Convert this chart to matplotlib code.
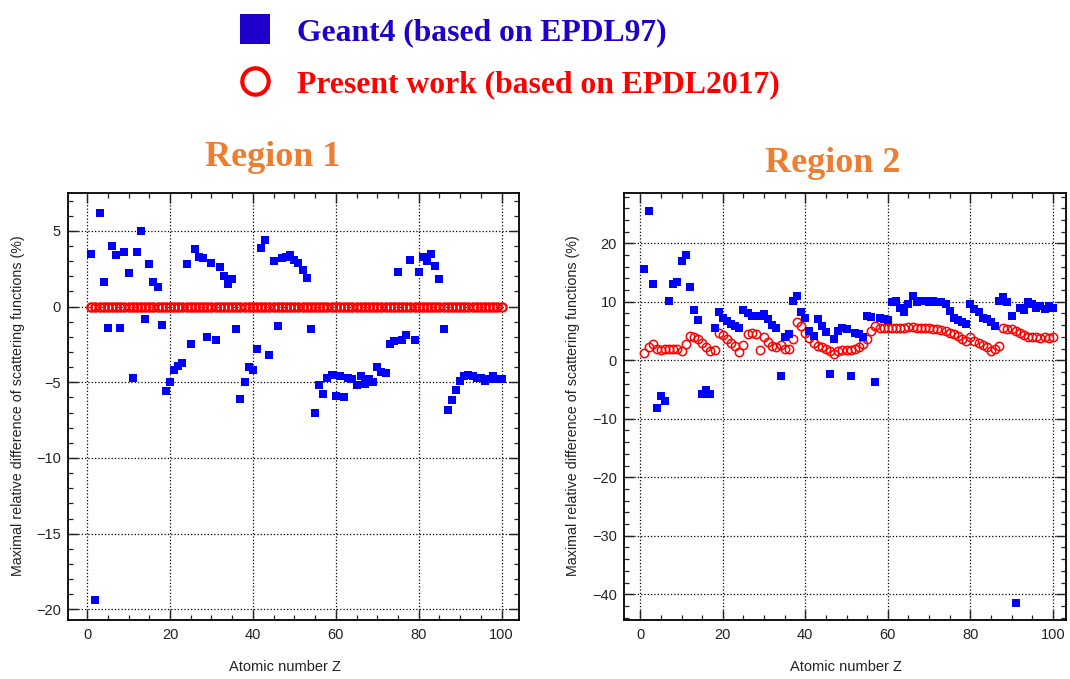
import numpy as np
import matplotlib
matplotlib.use("Agg")
import matplotlib.pyplot as plt
from matplotlib.lines import Line2D
from matplotlib.ticker import MultipleLocator

# Atomic number Z of each element
atomic_number = np.arange(1, 101)

# Region 1: maximal relative difference (%)
geant4_region1 = [
    3.5, -19.4, 6.2, 1.6, -1.4, 4.0, 3.4, -1.4, 3.6, 2.2,
    -4.7, 3.6, 5.0, -0.8, 2.8, 1.6, 1.3, -1.2, -5.6, -5.0,
    -4.2, -3.9, -3.7, 2.8, -2.5, 3.8, 3.3, 3.2, -2.0, 2.9,
    -2.2, 2.6, 2.0, 1.5, 1.8, -1.5, -6.1, -5.0, -4.0, -4.2,
    -2.8, 3.9, 4.4, -3.2, 3.0, -1.3, 3.2, 3.3, 3.4, 3.1,
    2.9, 2.4, 1.9, -1.5, -7.0, -5.2, -5.8, -4.7, -4.5, -5.9,
    -4.6, -6.0, -4.7, -4.8, -5.2, -4.6, -5.1, -4.8, -5.0, -4.0,
    -4.3, -4.4, -2.5, -2.3, 2.3, -2.2, -1.9, 3.1, -2.2, 2.3,
    3.3, 3.0, 3.5, 2.7, 1.8, -1.5, -6.8, -6.2, -5.5, -4.9,
    -4.6, -4.5, -4.6, -4.7, -4.7, -4.9, -4.8, -4.6, -4.8, -4.8,
]
present_region1 = [
    0, 0, 0, 0, 0, 0, 0, 0, 0, 0, 0, 0, 0, 0, 0, 0, 0, 0, 0, 0,
    0, 0, 0, 0, 0, 0, 0, 0, 0, 0, 0, 0, 0, 0, 0, 0, 0, 0, 0, 0,
    0, 0, 0, 0, 0, 0, 0, 0, 0, 0, 0, 0, 0, 0, 0, 0, 0, 0, 0, 0,
    0, 0, 0, 0, 0, 0, 0, 0, 0, 0, 0, 0, 0, 0, 0, 0, 0, 0, 0, 0,
    0, 0, 0, 0, 0, 0, 0, 0, 0, 0, 0, 0, 0, 0, 0, 0, 0, 0, 0, 0,
]

# Region 2
geant4_region2 = [
    15.6, 25.5, 13.0, -8.1, -6.1, -7.0, 10.2, 13.0, 13.3, 17.0,
    18.0, 12.6, 8.6, 6.9, -5.8, -5.0, -5.8, 5.6, 8.2, 7.3,
    6.8, 6.2, 5.9, 5.6, 8.6, 8.0, 7.6, 7.6, 7.6, 7.9,
    7.0, 6.0, 5.5, -2.7, 3.9, 4.5, 10.2, 11.0, 8.2, 7.3,
    5.0, 4.2, 7.0, 5.9, 4.8, -2.4, 3.6, 5.0, 5.5, 5.3,
    -2.7, 4.7, 4.5, 3.9, 7.6, 7.4, -3.7, 7.3, 7.1, 6.9,
    10.0, 10.1, 8.9, 8.2, 9.6, 11.0, 10.0, 10.2, 10.2, 10.0,
    10.2, 9.9, 9.9, 9.6, 8.5, 7.3, 6.9, 6.5, 6.2, 9.7,
    8.8, 8.2, 7.3, 7.0, 6.5, 5.9, 10.2, 10.8, 10.0, 7.6,
    -41.5, 9.0, 8.6, 9.9, 9.6, 9.0, 9.3, 8.8, 9.3, 9.0,
]
present_region2 = [
    1.2, 2.2, 2.8, 1.9, 1.8, 2.0, 2.0, 2.0, 2.0, 1.6,
    2.7, 4.2, 4.0, 3.7, 2.9, 2.2, 1.6, 1.7, 4.7, 4.3,
    3.6, 3.0, 2.5, 1.5, 2.6, 4.5, 4.6, 4.5, 1.8, 3.9,
    3.2, 2.4, 2.2, 2.6, 2.0, 1.9, 3.6, 6.5, 5.8, 4.6,
    3.8, 3.0, 2.5, 2.3, 1.9, 1.6, 1.0, 1.6, 1.7, 1.7,
    1.8, 2.0, 2.3, 2.7, 3.6, 5.0, 5.8, 5.5, 5.6, 5.6,
    5.6, 5.6, 5.6, 5.6, 5.7, 5.7, 5.6, 5.6, 5.5, 5.5,
    5.4, 5.3, 5.2, 5.0, 4.7, 4.5, 4.2, 3.6, 3.3, 3.9,
    3.3, 3.0, 2.6, 2.2, 1.6, 1.9, 2.5, 5.6, 5.3, 5.3,
    5.0, 4.7, 4.3, 4.0, 3.9, 3.9, 3.8, 3.9, 3.8, 3.9,
]

titles = ["Region 1", "Region 2"]
legend_labels = ["Geant4 (based on EPDL97)", "Present work (based on EPDL2017)"]
xlabel = "Atomic number Z"
ylabel = "Maximal relative difference of scattering functions (%)"

plt.rcParams['font.family'] = ['Liberation Sans', 'DejaVu Sans']
plt.rcParams['axes.unicode_minus'] = True
for ax_name in ['xtick', 'ytick']:
    plt.rcParams[f'{ax_name}.direction'] = 'in'
    plt.rcParams[f'{ax_name}.major.size'] = 7.5
    plt.rcParams[f'{ax_name}.minor.size'] = 3.8
    plt.rcParams[f'{ax_name}.major.width'] = 1.0
    plt.rcParams[f'{ax_name}.minor.width'] = 0.9
    plt.rcParams[f'{ax_name}.labelsize'] = 10.5
    plt.rcParams[f'{ax_name}.color'] = '#222222'
plt.rcParams['xtick.top'] = True
plt.rcParams['ytick.right'] = True
plt.rcParams['xtick.major.pad'] = 6
plt.rcParams['ytick.major.pad'] = 5

W, H = 1070, 679
fig = plt.figure(figsize=(W / 100, H / 100), dpi=100)

blue = '#0000ff'
red = '#ff0000'
orange = '#ED7D31'


def make_axes(left, right, top, bottom):
    return fig.add_axes([left / W, 1 - bottom / H, (right - left) / W, (bottom - top) / H])


def draw_region(ax, geant, present, ylim, ymajor, yminor, xlim, circle_lw):
    ax.plot(atomic_number, present, linestyle='none', marker='o', markersize=6.0,
            markerfacecolor='none', markeredgecolor=red, markeredgewidth=circle_lw, zorder=3)
    ax.plot(atomic_number, geant, linestyle='none', marker='s', markersize=5.8,
            color=blue, markeredgewidth=0, zorder=4)
    ax.set_xlim(*xlim)
    ax.set_ylim(*ylim)
    ax.xaxis.set_major_locator(MultipleLocator(20))
    ax.xaxis.set_minor_locator(MultipleLocator(5))
    ax.yaxis.set_major_locator(MultipleLocator(ymajor))
    ax.yaxis.set_minor_locator(MultipleLocator(yminor))
    ax.grid(True, which='major', linestyle=':', color='black', linewidth=0.9)
    for sp in ax.spines.values():
        sp.set_linewidth(1.3)


ax1 = make_axes(68, 519, 193, 620)
draw_region(ax1, geant4_region1, present_region1, (-20.7, 7.5), 5, 1, (-4.6, 104.2), 1.6)
ax2 = make_axes(624, 1066, 193, 620)
draw_region(ax2, geant4_region2, present_region2, (-44.4, 28.6), 10, 2, (-3.95, 103.2), 1.1)

# axis titles
for xc, yc in [(18, 406), (573, 406)]:
    fig.text(xc / W, 1 - yc / H, ylabel, rotation=90, ha='center', va='center',
             fontsize=10.3, color='#222222')
for xc in [285, 846]:
    fig.text(xc / W, 1 - 667 / H, xlabel, ha='center', va='center',
             fontsize=10.5, color='#222222')

# region titles
for (xc, yc), t in zip([(273, 158), (833, 163)], titles):
    fig.text(xc / W, 1 - yc / H, t, ha='center', va='center', fontsize=26,
             fontweight='bold', family='Liberation Serif', color=orange)

handles = [
    Line2D([], [], linestyle='none', marker='s', markersize=21, color='#1E00CC', markeredgewidth=0),
    Line2D([], [], linestyle='none', marker='o', markersize=19, markerfacecolor='none',
           markeredgecolor=red, markeredgewidth=3),
]
fig.legend(handles, legend_labels, loc='upper left', bbox_to_anchor=(239 / W, 1 - 18 / H),
           frameon=False, borderpad=0, borderaxespad=0, handlelength=1.0, handletextpad=0.82,
           labelspacing=0.71, labelcolor=['#1E00CC', red],
           prop={'family': 'Liberation Serif', 'weight': 'bold', 'size': 22.8})

fig.savefig('out.png', dpi=100)
